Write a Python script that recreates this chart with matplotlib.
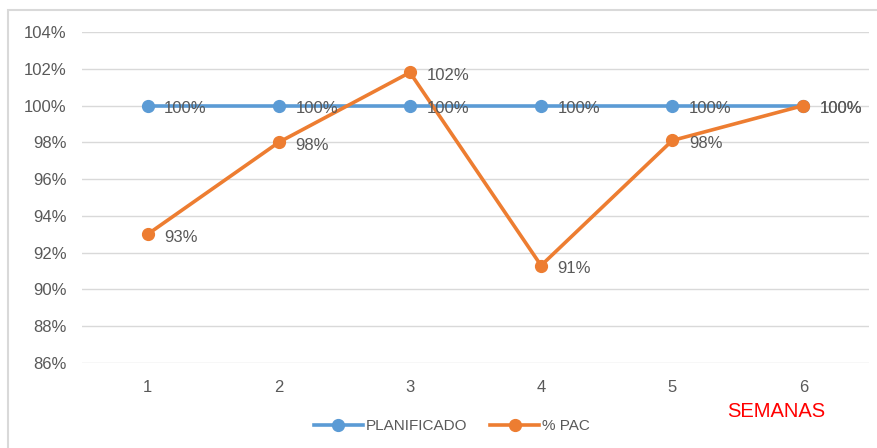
import matplotlib
matplotlib.use("Agg")
import matplotlib.pyplot as plt
from matplotlib.patches import Rectangle
from matplotlib.ticker import FuncFormatter

semanas = [1, 2, 3, 4, 5, 6]
planificado = [1.00, 1.00, 1.00, 1.00, 1.00, 1.00]
pac = [0.930, 0.980, 1.018, 0.913, 0.981, 1.000]
y_ticks = [0.86, 0.88, 0.90, 0.92, 0.94, 0.96, 0.98, 1.00, 1.02, 1.04]

BLUE = "#5B9BD5"
ORANGE = "#ED7D31"
GRAY = "#595959"

plt.rcParams["font.family"] = ["Liberation Sans", "DejaVu Sans"]

fig = plt.figure(figsize=(8.78, 4.48), dpi=100)
W, H = 878, 448
ax = fig.add_axes([82 / W, 1 - 363 / H, (869 - 82) / W, (363 - 32) / H])

# chart frame (right and bottom edges run off the canvas)
fig.patches.append(Rectangle((8 / W, -0.05), 1.2, 1 - 10 / H + 0.05,
                             transform=fig.transFigure, fill=False,
                             edgecolor="#D9D9D9", linewidth=1.5))

ax.plot(semanas, planificado, color=BLUE, linewidth=2.6, marker="o",
        markersize=8.5, label="PLANIFICADO", zorder=3)
ax.plot(semanas, pac, color=ORANGE, linewidth=2.6, marker="o",
        markersize=8.5, label="% PAC", zorder=4)

# value labels to the right of every point
for serie in (planificado, pac):
    for x, y in zip(semanas, serie):
        ax.annotate(f"{y:.0%}", (x, y), xytext=(12, -2),
                    textcoords="offset points", ha="left", va="center",
                    fontsize=12, color=GRAY, zorder=5)

ax.set_xlim(0.5, 6.5)
ax.set_ylim(0.86, 1.04)
ax.set_yticks(y_ticks)
ax.yaxis.set_major_formatter(FuncFormatter(lambda v, _: f"{v:.0%}"))
ax.set_xticks(semanas)
ax.tick_params(axis="both", length=0, labelsize=12, labelcolor=GRAY)
ax.tick_params(axis="y", pad=11)
ax.tick_params(axis="x", pad=12)
ax.grid(axis="y", color="#D9D9D9", linewidth=1)
ax.set_axisbelow(True)
for s in ax.spines.values():
    s.set_visible(False)

fig.text(776 / W, 1 - 411 / H, "SEMANAS", color="red", fontsize=14.5,
         ha="center", va="center")

fig.legend(loc="center", bbox_to_anchor=(452 / W, 1 - 426 / H), ncol=2,
           frameon=False, fontsize=11, labelcolor=GRAY, handlelength=3.2,
           columnspacing=1.5, handletextpad=0.2)

fig.savefig("out.png", dpi=100)
